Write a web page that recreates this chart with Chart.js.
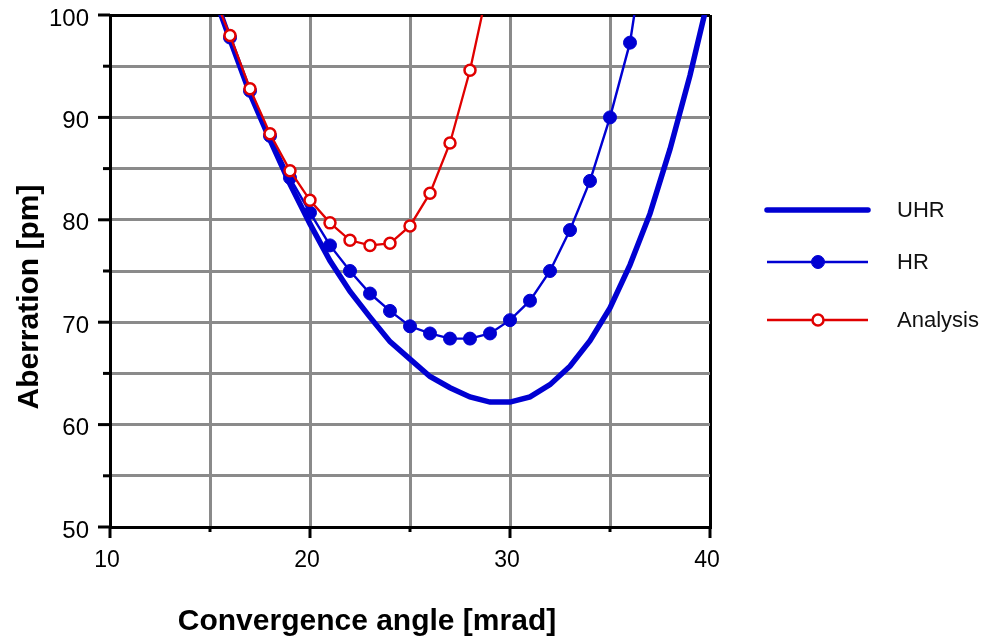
<!DOCTYPE html>
<html>
<head>
<meta charset="utf-8">
<script src="https://cdn.jsdelivr.net/npm/chart.js@4.4.0/dist/chart.umd.min.js"></script>
<style>
  html, body { margin: 0; padding: 0; background: #fff; }
  #wrap { width: 989px; height: 643px; position: relative; }
</style>
</head>
<body>
<div id="wrap"><canvas id="aberrationChart"></canvas></div>
<script>
// Values (convergence angle in mrad, aberration in pm)
const uhrAngles = [15, 16, 17, 18, 19, 20, 21, 22, 23, 24, 25, 26, 27, 28, 29, 30, 31, 32, 33, 34, 35, 36, 37, 38, 39, 40];
const uhrValues = [103.0, 97.6, 92.3, 87.8, 83.5, 79.6, 76.0, 73.0, 70.5, 68.1, 66.4, 64.7, 63.6, 62.7, 62.2, 62.2, 62.7, 63.9, 65.7, 68.2, 71.4, 75.6, 80.6, 86.9, 94.1, 102.3];

const hrAngles = [15, 16, 17, 18, 19, 20, 21, 22, 23, 24, 25, 26, 27, 28, 29, 30, 31, 32, 33, 34, 35, 36, 37];
const hrValues = [103.0, 97.8, 92.6, 88.2, 84.1, 80.7, 77.5, 75.0, 72.8, 71.1, 69.6, 68.9, 68.4, 68.4, 68.9, 70.2, 72.1, 75.0, 79.0, 83.8, 90.0, 97.3, 110.0];

const analysisAngles = [15, 16, 17, 18, 19, 20, 21, 22, 23, 24, 25, 26, 27, 28, 29];
const analysisValues = [102.8, 98.0, 92.8, 88.4, 84.8, 81.9, 79.7, 78.0, 77.5, 77.7, 79.4, 82.6, 87.5, 94.6, 103.6];

const seriesNames = ['UHR', 'HR', 'Analysis'];
const xTickLabels = [10, 20, 30, 40];
const yTickLabels = [50, 60, 70, 80, 90, 100];

const FONT = '"Liberation Sans", Arial, Helvetica, sans-serif';
const BLUE = '#0000d2';
const RED = '#e00000';
const GRID = '#8a8a8a';

function toPoints(xs, ys) {
    return xs.map((x, i) => ({ x: x, y: ys[i] }));
}

// outward tick marks, long at labelled values, short in between
const tickMarks = {
    id: 'tickMarks',
    afterDraw(chart) {
        const ctx = chart.ctx;
        const xs = chart.scales.x;
        const ys = chart.scales.y;
        const area = chart.chartArea;
        ctx.save();
        ctx.strokeStyle = '#000';
        ctx.lineWidth = 3;
        xs.ticks.forEach(t => {
            const px = xs.getPixelForValue(t.value);
            const len = xTickLabels.includes(t.value) ? 11 : 5;
            ctx.beginPath();
            ctx.moveTo(px, area.bottom);
            ctx.lineTo(px, area.bottom + len);
            ctx.stroke();
        });
        ys.ticks.forEach(t => {
            const py = ys.getPixelForValue(t.value);
            const len = yTickLabels.includes(t.value) ? 12 : 7;
            ctx.beginPath();
            ctx.moveTo(area.left, py);
            ctx.lineTo(area.left - len, py);
            ctx.stroke();
        });
        ctx.restore();
    }
};

// axis titles, placed like the original
const axisTitles = {
    id: 'axisTitles',
    afterDraw(chart) {
        const ctx = chart.ctx;
        ctx.save();
        ctx.fillStyle = '#000';
        ctx.font = 'bold 30px ' + FONT;
        ctx.textAlign = 'center';
        ctx.textBaseline = 'middle';
        ctx.fillText('Convergence angle [mrad]', 367, 622);
        ctx.translate(30, 297);
        ctx.rotate(-Math.PI / 2);
        ctx.fillText('Aberration [pm]', 0, 0);
        ctx.restore();
    }
};

// legend on the right: line sample, marker, then name
const sideLegend = {
    id: 'sideLegend',
    afterDraw(chart) {
        const ctx = chart.ctx;
        const rows = [210, 262, 320];
        ctx.save();
        chart.data.datasets.forEach((ds, i) => {
            const y = rows[i];
            ctx.strokeStyle = ds.borderColor;
            ctx.lineWidth = ds.borderWidth;
            ctx.lineCap = ds.borderWidth > 3 ? 'round' : 'butt';
            ctx.beginPath();
            ctx.moveTo(767, y);
            ctx.lineTo(868, y);
            ctx.stroke();
            if (ds.pointRadius > 0) {
                ctx.beginPath();
                ctx.arc(818, y, ds.pointRadius, 0, Math.PI * 2);
                ctx.fillStyle = ds.pointBackgroundColor;
                ctx.fill();
                ctx.lineWidth = ds.pointBorderWidth;
                ctx.strokeStyle = ds.pointBorderColor;
                ctx.stroke();
            }
            ctx.fillStyle = '#111';
            ctx.font = '22px ' + FONT;
            ctx.textAlign = 'left';
            ctx.textBaseline = 'middle';
            ctx.fillText(ds.label, 897, y + 1);
        });
        ctx.restore();
    }
};

const ctx = document.getElementById('aberrationChart').getContext('2d');
new Chart(ctx, {
    type: 'line',
    data: {
        datasets: [
            {
                label: seriesNames[0],
                data: toPoints(uhrAngles, uhrValues),
                borderColor: BLUE,
                borderWidth: 5.5,
                pointRadius: 0,
                tension: 0,
                order: 2
            },
            {
                label: seriesNames[1],
                data: toPoints(hrAngles, hrValues),
                borderColor: BLUE,
                borderWidth: 2.4,
                pointRadius: 6.5,
                pointBackgroundColor: BLUE,
                pointBorderColor: BLUE,
                pointBorderWidth: 1,
                tension: 0,
                order: 1
            },
            {
                label: seriesNames[2],
                data: toPoints(analysisAngles, analysisValues),
                borderColor: RED,
                borderWidth: 2.3,
                pointRadius: 5.5,
                pointBackgroundColor: '#fff',
                pointBorderColor: RED,
                pointBorderWidth: 2.5,
                tension: 0,
                order: 0
            }
        ]
    },
    options: {
        responsive: true,
        maintainAspectRatio: false,
        animation: false,
        layout: {
            padding: { top: 15, right: 279, bottom: 0, left: 0 }
        },
        scales: {
            x: {
                type: 'linear',
                min: 10,
                max: 40,
                afterFit(scale) {
                    scale.height = 116;
                    scale.paddingLeft = 0;
                    scale.paddingRight = 0;
                },
                border: { display: true, color: '#000', width: 3 },
                grid: {
                    drawTicks: false,
                    lineWidth: 3,
                    color: c => (c.tick && (c.tick.value === 10 || c.tick.value === 40)) ? '#000' : GRID
                },
                ticks: {
                    stepSize: 5,
                    autoSkip: false,
                    maxRotation: 0,
                    padding: 20,
                    labelOffset: -3,
                    color: '#000',
                    font: { family: FONT, size: 23 },
                    callback: v => xTickLabels.includes(v) ? String(v) : ''
                }
            },
            y: {
                type: 'linear',
                min: 50,
                max: 100,
                afterFit(scale) {
                    scale.width = 110;
                    scale.paddingTop = 0;
                    scale.paddingBottom = 0;
                },
                border: { display: true, color: '#000', width: 3 },
                grid: {
                    drawTicks: false,
                    lineWidth: 3,
                    color: c => (c.tick && (c.tick.value === 50 || c.tick.value === 100)) ? '#000' : GRID
                },
                ticks: {
                    stepSize: 5,
                    autoSkip: false,
                    padding: 21,
                    labelOffset: 4,
                    color: '#000',
                    font: { family: FONT, size: 24 },
                    callback: v => yTickLabels.includes(v) ? String(v) : ''
                }
            }
        },
        plugins: {
            legend: { display: false },
            tooltip: { enabled: false }
        }
    },
    plugins: [tickMarks, axisTitles, sideLegend]
});
</script>
</body>
</html>
